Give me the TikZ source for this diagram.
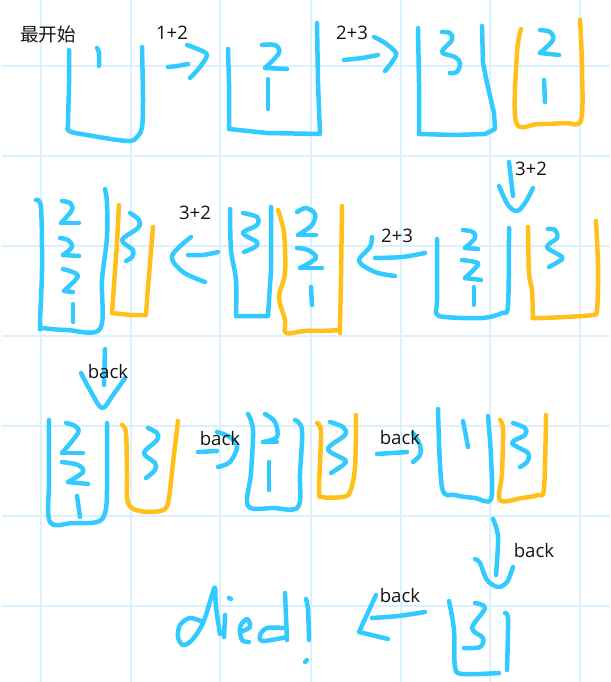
\documentclass[tikz,border=0pt]{standalone}
\usepackage{fontspec}
\setmainfont{Open Sans}
\newfontfamily\cjk{Noto Sans CJK SC}
\definecolor{inkblue}{HTML}{33CBFF}
\definecolor{inkorange}{HTML}{FFC01A}
\definecolor{gridblue}{HTML}{DCF1FF}
\tikzset{
  bluepen/.style={draw=inkblue, line width=.09cm, line cap=round, line join=round},
  orangepen/.style={draw=inkorange, line width=.09cm, line cap=round, line join=round},
  stroke/.style={smooth, tension=.55},
  lbl/.style={font=\fontsize{10.6}{12}\selectfont, text=black!92, inner sep=0pt}
}
\begin{document}
\begin{tikzpicture}[x=.02cm,y=-.02cm]
  \useasboundingbox (0,0) rectangle (610,682);
  \foreach \gx in {41,131,220,311,401,490,580} \draw[gridblue, line width=.03cm] (\gx,0) -- (\gx,682);
  \foreach \gy in {66,156,246,336,426,516,606} \draw[gridblue, line width=.03cm] (2,\gy) -- (610,\gy);

  \draw[bluepen] plot[stroke] coordinates {(69,50) (69,85) (68,123) (69,131) (87,135) (127,141) (137,137) (142,127) (143,100) (142,47)};
  \draw[bluepen] plot[stroke] coordinates {(97,48) (99,53) (99,66)};
  \draw[bluepen] plot[stroke] coordinates {(168,67) (177,66) (188,64)};
  \draw[bluepen] plot[stroke] coordinates {(187,45) (200,50) (207,55) (200,67) (190,78)};

  \draw[bluepen] (228,49) -- (229,83) -- (229,129) -- (267,133) -- (320,134) -- (318,83) -- (317,23);
  \draw[bluepen] plot[stroke] coordinates {(262,45) (275,45) (279,53) (265,68)};
  \draw[bluepen] (265,68) -- (287,69);
  \draw[bluepen] (268,79) -- (268,109);
  \draw[bluepen] plot[stroke] coordinates {(344,60) (362,58) (378,55)};
  \draw[bluepen] plot[stroke] coordinates {(374,37) (385,43) (396,53) (392,62) (385,71)};

  \draw[bluepen] (418,28) -- (419,83) -- (419,134) -- (455,135) -- (485,134) -- (495,129) -- (494,113) -- (487,83) -- (483,63) -- (482,26);
  \draw[bluepen] plot[stroke] coordinates {(442,32) (450,33) (452,40) (442,52) (455,57) (460,63) (457,72) (450,73)};
  \draw[orangepen] plot[stroke] coordinates {(521,29) (517,53) (516,122) (538,124) (565,123) (581,120) (582,67) (580,20)};
  \draw[bluepen] plot[stroke] coordinates {(540,30) (550,32) (553,40) (540,53)};
  \draw[bluepen] (540,53) -- (559,55);
  \draw[bluepen] (544,80) -- (545,102);

  \draw[bluepen] (509,162) -- (513,196);
  \draw[bluepen] plot[stroke] coordinates {(499,186) (508,205) (517,211) (525,203) (533,188)};
  \draw[bluepen] plot[stroke] coordinates {(437,239) (437,300) (436,313) (445,317) (482,318) (502,313) (508,305) (509,228)};
  \draw[bluepen] plot[stroke] coordinates {(463,230) (473,232) (475,238) (465,248)};
  \draw[bluepen] (465,248) -- (478,249);
  \draw[bluepen] plot[stroke] coordinates {(462,260) (475,262) (478,265) (465,278)};
  \draw[bluepen] (465,278) -- (481,280);
  \draw[bluepen] (474,287) -- (474,305);
  \draw[orangepen] plot[stroke] coordinates {(528,227) (529,273) (532,290) (533,315) (535,318) (565,317) (592,315) (597,310) (598,267) (596,221)};
  \draw[bluepen] plot[stroke] coordinates {(548,229) (555,230) (557,238) (547,247) (562,257) (558,262) (549,267)};
  \draw[bluepen] plot[stroke] coordinates {(375,258) (402,257) (425,253)};
  \draw[bluepen] plot[stroke] coordinates {(372,237) (370,247) (359,261) (375,272) (395,276)};

  \draw[orangepen] plot[stroke] coordinates {(278,210) (284,233) (285,273) (279,297) (285,320) (286,333) (305,331) (337,330) (340,323) (342,206)};
  \draw[bluepen] plot[stroke] coordinates {(297,212) (306,208) (315,214) (312,225) (298,235)};
  \draw[bluepen] (298,235) -- (316,235);
  \draw[bluepen] plot[stroke] coordinates {(297,248) (308,250) (316,258) (300,268)};
  \draw[bluepen] (300,268) -- (322,268);
  \draw[bluepen] (311,287) -- (312,305);
  \draw[bluepen] plot[stroke] coordinates {(230,209) (231,250) (236,280) (236,316)};
  \draw[bluepen] (236,316) -- (268,316) -- (271,270) -- (271,207);
  \draw[bluepen] plot[stroke] coordinates {(243,213) (257,217) (257,225) (243,233) (257,242) (255,247) (244,252)};
  \draw[bluepen] plot[stroke] coordinates {(188,255) (203,255) (218,252)};
  \draw[bluepen] plot[stroke] coordinates {(191,237) (172,256) (183,272) (205,282)};

  \draw[bluepen] plot[stroke] coordinates {(36,200) (41,208) (42,270) (40,325) (43,328) (67,330) (100,329) (102,280) (107,237) (107,203) (105,189)};
  \draw[bluepen] plot[stroke] coordinates {(62,201) (70,203) (72,210) (61,223)};
  \draw[bluepen] (61,223) -- (79,223);
  \draw[bluepen] plot[stroke] coordinates {(60,238) (68,240) (72,247) (63,255)};
  \draw[bluepen] (63,255) -- (79,256);
  \draw[bluepen] plot[stroke] coordinates {(63,269) (75,273) (77,278) (64,291)};
  \draw[bluepen] (64,291) -- (73,292);
  \draw[bluepen] (73,304) -- (73,322);
  \draw[orangepen] (119,205) -- (117,243) -- (112,313) -- (130,315) -- (146,315) -- (148,287) -- (153,227);
  \draw[bluepen] plot[stroke] coordinates {(130,213) (139,220) (138,228) (122,240) (133,250) (132,257) (126,261)};

  \draw[bluepen] (105,349) -- (104,385);
  \draw[bluepen] plot[stroke] coordinates {(81,373) (90,390) (102,408) (113,395) (125,378)};
  \draw[bluepen] plot[stroke] coordinates {(49,420) (49,480) (50,522) (73,523) (97,522) (105,513) (107,490) (107,423)};
  \draw[bluepen] plot[stroke] coordinates {(66,423) (75,426) (78,433) (62,453)};
  \draw[bluepen] (62,453) -- (83,453);
  \draw[bluepen] plot[stroke] coordinates {(62,462) (78,465) (83,472) (68,482)};
  \draw[bluepen] (68,482) -- (88,484);
  \draw[bluepen] (77,496) -- (80,517);
  \draw[orangepen] plot[stroke] coordinates {(122,425) (126,433) (127,473) (128,503) (140,511) (160,511) (168,503) (173,463) (178,421)};
  \draw[bluepen] plot[stroke] coordinates {(148,428) (157,433) (157,440) (144,453) (155,463) (155,470) (146,478)};
  \draw[bluepen] (198,452) -- (217,451);
  \draw[bluepen] plot[stroke] coordinates {(217,432) (230,437) (237,447) (230,462) (218,467)};

  \draw[bluepen] plot[stroke] coordinates {(248,414) (253,430) (251,473) (248,506) (273,508) (298,507) (300,473) (302,430) (295,420)};
  \draw[bluepen] plot[stroke] coordinates {(265,414) (275,422) (277,437) (263,442)};
  \draw[bluepen] (263,442) -- (277,442);
  \draw[bluepen] (269,462) -- (269,490);
  \draw[orangepen] plot[stroke] coordinates {(317,423) (321,433) (319,490) (322,497) (342,497) (350,492) (355,467) (356,415)};
  \draw[bluepen] plot[stroke] coordinates {(330,422) (343,427) (345,435) (328,449) (345,460) (343,465) (331,473)};
  \draw[bluepen] (377,454) -- (407,452);
  \draw[bluepen] plot[stroke] coordinates {(413,433) (420,445) (420,455) (413,462)};

  \draw[bluepen] plot[stroke] coordinates {(438,409) (442,487) (455,495) (475,498) (491,499) (491,457) (488,416)};
  \draw[bluepen] plot[stroke] coordinates {(463,421) (468,447)};
  \draw[orangepen] plot[stroke] coordinates {(500,420) (503,430) (502,473) (500,500) (522,498) (538,495) (544,488) (546,415)};
  \draw[bluepen] plot[stroke] coordinates {(513,423) (525,428) (525,435) (512,443) (528,453) (527,462) (520,467)};

  \draw[bluepen] plot[stroke] coordinates {(493,519) (498,537) (496,575)};
  \draw[bluepen] plot[stroke] coordinates {(475,559) (480,563) (487,580) (498,587) (507,582) (513,567)};
  \draw[bluepen] plot[stroke] coordinates {(449,601) (454,630) (455,667) (463,674) (499,673)};
  \draw[bluepen] plot[stroke] coordinates {(505,613) (508,620) (507,670)};
  \draw[bluepen] plot[stroke] coordinates {(475,603) (485,608) (472,628) (483,638) (480,647) (464,648)};
  \draw[bluepen] plot[stroke] coordinates {(372,618) (398,616) (425,612)};
  \draw[bluepen] (376,595) -- (359,632) -- (388,639);

  \draw[bluepen] plot[stroke] coordinates {(220,634) (216,607) (215,588) (212,595) (203,623) (192,640) (183,645) (178,637) (180,625) (190,618) (203,622)};
  \draw[bluepen] (229,598) -- (231,599);
  \draw[bluepen] (225,615) -- (224,637);
  \draw[bluepen] plot[stroke] coordinates {(240,632) (250,627) (247,619) (240,627) (242,640) (249,642)};
  \draw[bluepen] (285,593) -- (287,640);
  \draw[bluepen] plot[stroke] coordinates {(283,628) (267,628) (260,635) (263,641) (287,637)};
  \draw[bluepen] plot[stroke] coordinates {(306,599) (308,610) (309,640)};
  \draw[bluepen] (305,662) -- (307,660);

  \node[lbl] (start) at (48,34) {\cjk 最开始};
  \node[lbl] (add12) at (172,33) {1+2};
  \node[lbl] (add23a) at (352,33) {2+3};
  \node[lbl] (add32a) at (531,169) {3+2};
  \node[lbl] (add23b) at (397,236) {2+3};
  \node[lbl] (add32b) at (195,213) {3+2};
  \node[lbl] (backa) at (108,372) {back};
  \node[lbl] (backb) at (220,439) {back};
  \node[lbl] (backc) at (400,438) {back};
  \node[lbl] (backd) at (534,551) {back};
  \node[lbl] (backe) at (400,596) {back};
\end{tikzpicture}
\end{document}
